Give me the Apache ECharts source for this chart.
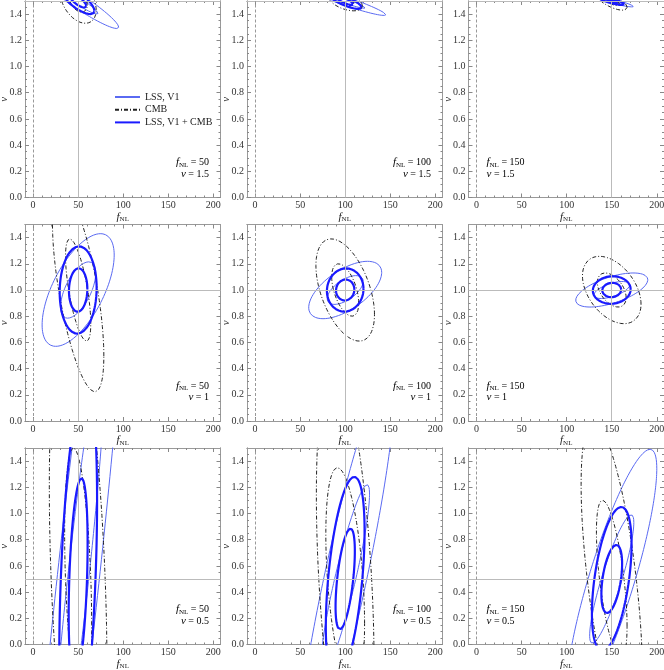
<!DOCTYPE html>
<html>
<head>
<meta charset="utf-8">
<script src="https://cdn.jsdelivr.net/npm/echarts@6/dist/echarts.min.js"></script>
<style>
html, body { margin: 0; padding: 0; background: #fff; }
#container { width: 664px; height: 670px; }
</style>
</head>
<body>
<div id="container"></div>
<script>
// fiducial values, one per column / row
var fnlFid = [50, 100, 150];
var nuFid = [1.5, 1, 0.5];

var xTicks = [0, 50, 100, 150, 200];
var xMinorTicks = [10, 20, 30, 40, 60, 70, 80, 90, 110, 120, 130, 140, 160, 170, 180, 190];
var yTicks = [0, 0.2, 0.4, 0.6, 0.8, 1.0, 1.2, 1.4];
var yMinorTicks = [0.05, 0.1, 0.15, 0.25, 0.3, 0.35, 0.45, 0.5, 0.55, 0.65, 0.7, 0.75,
    0.85, 0.9, 0.95, 1.05, 1.1, 1.15, 1.25, 1.3, 1.35, 1.45];

// contour ellipses: [sigma fNL, sigma nu, correlation], panels row by row
var lssOuter = [
    [45, 0.21, -0.95], [45, 0.11, -0.95], [24, 0.045, -0.93],
    [40, 0.43, 0.62], [40.5, 0.219, 0.61], [40, 0.13, 0.6],
    [60, 3.5, 0.92], [55, 1.6, 0.9], [50, 0.99, 0.85]
];
var lssInner = [
    [22, 0.1, -0.95], [22, 0.055, -0.95], [12, 0.022, -0.93],
    [19.5, 0.215, 0.6], [20, 0.11, 0.6], [20, 0.065, 0.6],
    [30, 1.75, 0.92], [27, 0.72, 0.9], [24.5, 0.49, 0.88]
];
var cmbOuter = [
    [20, 0.17, -0.4], [19, 0.075, -0.5], [17, 0.07, -0.7],
    [28.5, 0.776, -0.65], [32.5, 0.39, -0.48], [32.5, 0.257, -0.42],
    [32, 2, -0.35], [32, 1.6, -0.4], [34, 1.2, -0.6]
];
var cmbInner = [
    [10, 0.085, -0.4], [9.5, 0.037, -0.5], [8.5, 0.035, -0.7],
    [14, 0.39, -0.66], [15, 0.2, -0.5], [16, 0.13, -0.45],
    [15, 1, -0.35], [21.5, 0.85, -0.4], [17, 0.6, -0.6]
];
var combOuter = [
    [18, 0.1, -0.75], [18, 0.06, -0.8], [14, 0.03, -0.8],
    [20.5, 0.333, 0.05], [20.3, 0.165, 0.05], [21, 0.105, 0.05],
    [21, 1.5, 0.4], [21.5, 0.78, 0.47], [22, 0.55, 0.48]
];
var combInner = [
    [9, 0.05, -0.75], [9, 0.03, -0.8], [7, 0.015, -0.8],
    [10.2, 0.166, 0.05], [10.2, 0.08, 0.05], [10.5, 0.055, 0.05],
    [10.5, 0.77, 0.35], [10.7, 0.385, 0.55], [11.5, 0.26, 0.45]
];

var SERIF = 'Liberation Serif';
var colLeft = [25, 247, 468.5];
var rowTop = [1, 224.5, 448];
var W = 195.5, H = 196.5;

function ellipse(cx, cy, p) {
    var a = p[0], b = p[1], r = p[2];
    var s = Math.sqrt(1 - r * r);
    var pts = [];
    for (var i = 0; i <= 240; i++) {
        var t = 2 * Math.PI * i / 240;
        pts.push([cx + a * Math.cos(t), cy + b * (r * Math.cos(t) + s * Math.sin(t))]);
    }
    return pts;
}

var subRich = {
    i: { fontFamily: SERIF, fontStyle: 'italic', fontSize: 11, color: '#222' },
    s: { fontFamily: SERIF, fontSize: 7, color: '#222', padding: [5, 0, 0, 0] },
    n: { fontFamily: SERIF, fontSize: 10, color: '#222' }
};

var grids = [], xAxes = [], yAxes = [], series = [], graphics = [];

function tickAxis(kind, g, pos, values, len, main) {
    var ax = {
        type: 'value', gridIndex: g, position: pos,
        min: kind === 'x' ? -9 : 0,
        max: kind === 'x' ? 208 : 1.5,
        axisLine: { show: true, onZero: false, lineStyle: { color: '#999', width: 1 } },
        splitLine: { show: false },
        axisTick: { show: true, inside: true, length: len, customValues: values,
            lineStyle: { color: '#888', width: 1 } },
        axisLabel: { show: false }
    };
    if (main) {
        ax.axisLabel = {
            show: true, customValues: values, fontFamily: SERIF, fontSize: 10, color: '#333',
            margin: 3,
            formatter: function (v) { return kind === 'x' ? String(v) : v.toFixed(1); }
        };
        ax.nameLocation = 'middle';
        if (kind === 'x') {
            ax.name = '{i|f}{s|NL}';
            ax.nameGap = 12;
            ax.nameTextStyle = { rich: subRich };
        } else {
            ax.name = 'ν';
            ax.nameGap = 15;
            ax.nameRotate = 90;
            ax.nameMoveOverlap = false;
            ax.nameTextStyle = { fontFamily: SERIF, fontStyle: 'italic', fontSize: 11, color: '#333' };
        }
    }
    return ax;
}

for (var row = 0; row < 3; row++) {
    for (var col = 0; col < 3; col++) {
        var g = row * 3 + col;
        var fx = fnlFid[col], fy = nuFid[row];
        grids.push({ left: colLeft[col], top: rowTop[row], width: W, height: H,
            show: false, outerBoundsMode: 'none', containLabel: false });

        xAxes.push(tickAxis('x', g, 'bottom', xTicks, 4, true));
        xAxes.push(tickAxis('x', g, 'bottom', xMinorTicks, 2, false));
        xAxes.push(tickAxis('x', g, 'top', xTicks, 4, false));
        xAxes.push(tickAxis('x', g, 'top', xMinorTicks, 2, false));
        yAxes.push(tickAxis('y', g, 'left', yTicks, 4, true));
        yAxes.push(tickAxis('y', g, 'left', yMinorTicks, 2, false));
        yAxes.push(tickAxis('y', g, 'right', yTicks, 4, false));
        yAxes.push(tickAxis('y', g, 'right', yMinorTicks, 2, false));

        var xi = g * 4, yi = g * 4;
        series.push({
            type: 'line', data: [], xAxisIndex: xi, yAxisIndex: yi, silent: true, z: 1,
            markLine: {
                silent: true, symbol: 'none', label: { show: false },
                lineStyle: { color: '#bbb', width: 1, type: 'solid' },
                data: [
                    { xAxis: fx },
                    { yAxis: fy },
                    { xAxis: 0, lineStyle: { color: '#999', type: [3, 2], width: 1 } }
                ]
            }
        });

        var sets = [
            { name: 'LSS, V1', list: [lssOuter[g], lssInner[g]],
              style: { color: '#5a6af2', width: 1 } },
            { name: 'CMB', list: [cmbOuter[g], cmbInner[g]],
              style: { color: '#222', width: 1, type: [4, 2, 1, 2] } },
            { name: 'LSS, V1 + CMB', list: [combOuter[g], combInner[g]],
              style: { color: '#1a1aff', width: 2.2 } }
        ];
        sets.forEach(function (st, k) {
            st.list.forEach(function (p) {
                series.push({
                    type: 'line', name: st.name, xAxisIndex: xi, yAxisIndex: yi,
                    data: ellipse(fx, fy, p), symbol: 'none', showSymbol: false,
                    lineStyle: st.style, itemStyle: { color: st.style.color },
                    clip: true, silent: true, z: 2 + k
                });
            });
        });

        var right = col < 2;
        var tx = right ? colLeft[col] + 184 : colLeft[col] + 18;
        var by = rowTop[row] + H;
        graphics.push({
            type: 'text', silent: true,
            style: { text: '{i|f}{s|NL}{n| = ' + fx + '}', x: tx, y: by - 35,
                align: right ? 'right' : 'left', verticalAlign: 'middle', rich: subRich }
        });
        graphics.push({
            type: 'text', silent: true,
            style: { text: '{i|ν}{n| = ' + fy + '}', x: tx, y: by - 23.5,
                align: right ? 'right' : 'left', verticalAlign: 'middle', rich: subRich }
        });
    }
}

var myChart = echarts.init(document.getElementById('container'));
myChart.setOption({
    animation: false,
    backgroundColor: '#fff',
    legend: {
        data: ['LSS, V1', 'CMB', 'LSS, V1 + CMB'],
        orient: 'vertical', left: 114, top: 92, padding: 0,
        itemWidth: 25, itemHeight: 9, itemGap: 2.7, selectedMode: false,
        itemStyle: { color: 'rgba(0,0,0,0)', borderWidth: 0, opacity: 0 },
        textStyle: { fontFamily: SERIF, fontSize: 10, color: '#222' }
    },
    grid: grids,
    xAxis: xAxes,
    yAxis: yAxes,
    series: series,
    graphic: graphics
});
</script>
</body>
</html>
